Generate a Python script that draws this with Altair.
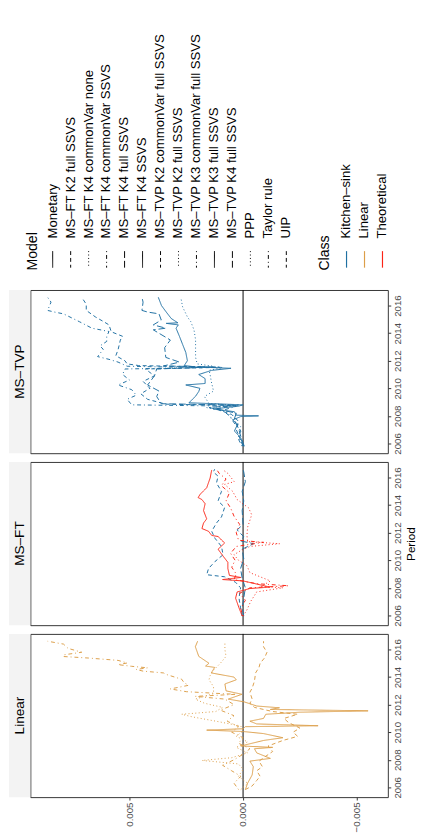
import altair as alt
import pandas as pd

# ---------------- data (values in units of 1e-3) ----------------
# Linear panel
LIN_MONETARY = [(2005.84,-0.1),(2006.3,-0.2),(2006.9,-0.4),(2007.5,-0.45),(2007.9,-0.3),(2008.1,-1.2),(2008.5,-0.6),(2008.8,-0.5),(2008.9,-1.3),(2009.0,0.1),(2009.4,-0.9),(2009.6,-1.75),(2009.9,-0.9),(2010.05,0.0),(2010.15,1.6),(2010.25,0.0),(2010.4,-0.1),(2010.47,-3.3),(2010.6,-0.6),(2010.8,-0.3),(2011.0,-0.9),(2011.3,-1.0),(2011.45,-2.5),(2011.55,-5.5),(2011.65,-1.2),(2011.77,-1.6),(2011.9,-0.6),(2012.2,-0.05),(2012.4,0.65),(2012.75,0.05),(2013.0,0.75),(2013.5,0.8),(2013.8,0.3),(2014.0,0.4),(2014.3,1.4),(2014.7,1.25),(2014.8,1.65),(2015.0,1.5),(2015.5,1.95),(2016.2,2.1),(2016.6,2.0)]
LIN_PPP = [(2005.84,0.1),(2006.3,-0.2),(2006.8,0.2),(2007.3,0.0),(2007.7,0.2),(2007.95,1.8),(2008.15,0.5),(2008.5,-0.2),(2008.9,0.3),(2009.3,-0.2),(2009.7,0.3),(2010.1,0.0),(2010.45,0.1),(2010.8,1.2),(2011.1,2.2),(2011.3,2.7),(2011.5,1.2),(2011.8,0.9),(2012.1,1.7),(2012.4,2.1),(2012.8,1.3),(2013.3,1.3),(2013.8,1.5),(2014.1,1.45),(2014.5,1.3),(2015.0,1.0),(2015.5,0.75),(2016.0,0.8),(2016.6,0.8)]
LIN_TAYLOR = [(2005.84,0.2),(2006.3,0.4),(2006.8,0.1),(2007.2,0.5),(2007.6,0.9),(2008.0,0.4),(2008.4,0.0),(2008.8,-0.3),(2009.2,0.2),(2009.6,0.0),(2010.0,0.5),(2010.4,0.2),(2010.8,0.7),(2011.2,0.4),(2011.6,1.0),(2012.0,0.4),(2012.4,0.8),(2012.6,2.1),(2012.75,0.3),(2012.82,1.2),(2012.94,2.5),(2013.14,3.2),(2013.4,2.4),(2013.6,2.6),(2013.84,2.7),(2014.2,3.4),(2014.3,3.5),(2014.43,4.4),(2014.55,4.7),(2014.67,4.2),(2014.78,4.9),(2014.9,5.5),(2015.02,5.1),(2015.21,5.5),(2015.38,6.8),(2015.49,7.9),(2015.61,7.9),(2015.8,7.1),(2016.08,7.7),(2016.39,7.9),(2016.6,8.6)]
LIN_UIP = [(2005.84,-0.1),(2006.1,-0.4),(2006.5,-0.6),(2006.8,-0.75),(2007.2,-0.6),(2007.5,-0.85),(2007.9,-0.7),(2008.2,-0.95),(2008.6,-1.3),(2009.0,-1.1),(2009.4,-1.75),(2009.7,-2.4),(2010.0,-2.2),(2010.3,-2.5),(2010.7,-2.0),(2011.0,-1.8),(2011.3,-2.4),(2011.5,-1.3),(2011.8,-0.5),(2012.1,-0.3),(2012.4,-0.4),(2012.9,-0.3),(2013.2,-0.4),(2013.7,-0.5),(2014.3,-0.55),(2014.7,-0.7),(2015.0,-0.75),(2015.4,-0.95),(2015.8,-1.05),(2016.2,-0.9),(2016.6,-0.9)]

# MS-FT panel
FT_K4_SSVS = [(2005.95,0.04),(2006.55,0.18),(2007.25,0.33),(2007.7,0.26),(2007.95,-0.3),(2008.05,-1.18),(2008.3,-0.53),(2008.5,0.0),(2008.6,0.9),(2008.75,0.1),(2008.9,0.6),(2009.4,0.67),(2009.85,0.67),(2010.3,0.88),(2010.8,1.1),(2011.25,0.81),(2011.72,1.1),(2011.8,1.38),(2012.1,1.52),(2012.3,1.81),(2012.7,1.74),(2013.0,1.6),(2013.6,1.74),(2014.1,1.67),(2014.4,1.81),(2014.55,1.98),(2014.8,1.88),(2015.26,1.6),(2015.96,1.45),(2016.55,1.38)]
FT_K4_CV_NONE = [(2005.95,0.0),(2006.4,-0.17),(2007.0,-0.33),(2007.7,-0.6),(2008.0,-1.75),(2008.1,-0.8),(2008.5,-1.2),(2008.8,-0.75),(2009.1,-0.3),(2009.6,-0.17),(2010.0,0.2),(2010.4,0.4),(2010.7,0.1),(2011.0,-0.3),(2011.2,-1.61),(2011.35,-0.2),(2011.8,-0.17),(2012.4,-0.2),(2013.3,-0.38),(2013.8,-0.24),(2014.4,0.26),(2015.0,0.46),(2015.5,0.81),(2015.7,0.39),(2016.3,0.67),(2016.55,0.88)]
FT_K4_CV_SSVS = [(2005.95,0.02),(2006.5,0.1),(2007.1,-0.1),(2007.6,0.15),(2008.0,-0.3),(2008.15,-2.0),(2008.3,-0.6),(2008.6,0.4),(2009.0,0.3),(2009.5,0.5),(2010.0,0.35),(2010.5,0.55),(2011.0,0.3),(2011.3,-0.9),(2011.45,0.2),(2012.0,0.3),(2012.6,0.15),(2013.2,0.4),(2013.8,0.55),(2014.3,0.75),(2014.9,0.6),(2015.4,0.95),(2015.9,0.75),(2016.3,1.05),(2016.55,1.15)]
FT_K2_FULL = [(2005.95,0.04),(2006.55,0.11),(2007.25,0.18),(2008.0,0.11),(2008.4,0.33),(2008.8,0.81),(2008.95,1.6),(2009.4,1.52),(2009.9,1.24),(2010.4,0.88),(2011.0,0.95),(2011.6,1.24),(2012.1,1.38),(2012.7,1.17),(2013.14,0.95),(2013.84,0.81),(2014.3,1.1),(2015.0,0.95),(2015.6,1.17),(2016.1,1.1),(2016.4,1.31),(2016.6,1.25)]
FT_K4_FULL = [(2005.95,-0.03),(2006.55,0.04),(2007.25,-0.03),(2008.0,-0.1),(2008.7,0.04),(2009.4,0.11),(2010.1,-0.03),(2010.8,0.04),(2011.2,-0.46),(2011.4,0.1),(2011.7,-0.03),(2012.2,0.26),(2012.6,0.0),(2013.6,0.04),(2014.3,-0.03),(2015.0,0.04),(2015.7,-0.1),(2016.4,-0.03),(2016.6,0.0)]

# MS-TVP panel
TVP_K3_CV_FULL = [(2005.8,0.05),(2006.3,0.2),(2006.9,0.1),(2007.5,0.4),(2008.0,0.6),(2008.4,0.9),(2008.7,0.3),(2008.8,4.9),(2009.2,5.1),(2009.5,4.7),(2009.9,4.9),(2010.24,5.5),(2010.6,5.0),(2011.0,5.3),(2011.4,5.2),(2011.5,1.8),(2011.6,5.1),(2011.9,5.5),(2012.1,5.9),(2012.3,6.4),(2012.83,6.15),(2013.07,6.3),(2013.4,6.0),(2013.77,6.0),(2014.12,5.9),(2014.36,6.65),(2014.83,7.2),(2015.4,7.9),(2015.53,8.3),(2015.65,8.6),(2016.25,8.45),(2016.6,8.6)]
TVP_K2_CV_FULL = [(2005.8,0.0),(2006.4,0.15),(2007.0,0.3),(2007.6,0.2),(2008.1,0.5),(2008.5,1.2),(2008.75,0.4),(2008.85,3.4),(2009.2,4.2),(2009.6,4.5),(2010.0,4.1),(2010.5,4.4),(2010.9,3.9),(2011.4,4.3),(2011.52,1.0),(2011.65,4.6),(2011.77,5.1),(2012.0,5.2),(2012.36,5.6),(2012.8,5.5),(2013.5,5.4),(2013.77,5.3),(2014.1,5.8),(2014.6,5.9),(2014.8,6.1),(2015.18,6.5),(2015.65,6.9),(2016.1,6.9),(2016.6,7.1)]
TVP_K4_FULL = [(2005.8,-0.05),(2006.5,0.1),(2007.1,0.2),(2007.7,0.4),(2008.2,0.3),(2008.6,1.5),(2008.78,0.2),(2008.88,3.6),(2009.4,3.8),(2009.8,3.7),(2010.24,4.2),(2010.9,3.9),(2011.4,3.8),(2011.55,1.3),(2011.62,3.5),(2011.9,2.8),(2012.24,3.4),(2012.95,3.45),(2013.5,3.2),(2014.24,3.95),(2014.36,3.4),(2014.6,3.95),(2014.95,3.6),(2015.4,3.7),(2015.53,4.2),(2015.65,4.45),(2016.25,4.4),(2016.6,4.45)]
TVP_K3_FULL = [(2005.8,-0.04),(2006.0,0.03),(2006.4,0.1),(2006.9,0.38),(2007.4,0.24),(2007.7,0.46),(2007.95,0.1),(2008.0,-0.68),(2008.05,0.3),(2008.3,0.38),(2008.5,1.3),(2008.7,0.2),(2008.8,0.0),(2008.95,2.38),(2009.2,2.23),(2009.42,2.09),(2009.77,1.95),(2010.0,1.9),(2010.24,2.52),(2010.35,1.67),(2010.7,1.67),(2011.0,1.95),(2011.3,1.38),(2011.45,0.53),(2011.55,2.09),(2011.65,2.59),(2012.0,2.45),(2012.6,2.52),(2013.18,2.66),(2013.77,2.8),(2014.36,2.95),(2014.6,2.85),(2014.71,3.38),(2014.75,2.87),(2015.06,3.16),(2015.53,3.38),(2016.0,3.59),(2016.6,3.73)]
TVP_K2_FULL = [(2005.8,0.0),(2006.5,0.2),(2007.2,0.1),(2007.8,0.5),(2008.3,0.7),(2008.6,1.6),(2008.75,0.3),(2008.9,1.5),(2009.4,1.7),(2009.8,1.3),(2010.5,1.4),(2011.0,1.45),(2011.3,1.5),(2011.5,0.9),(2011.77,2.02),(2012.24,2.09),(2012.83,2.09),(2013.53,2.09),(2014.24,2.16),(2014.83,2.3),(2015.18,2.45),(2015.9,2.66),(2016.5,2.73)]

MODELS = ["Monetary", "MS–FT K2 full SSVS", "MS–FT K4 commonVar none",
          "MS–FT K4 commonVar SSVS", "MS–FT K4 full SSVS", "MS–FT K4 SSVS",
          "MS–TVP K2 commonVar full SSVS", "MS–TVP K2 full SSVS",
          "MS–TVP K3 commonVar full SSVS", "MS–TVP K3 full SSVS",
          "MS–TVP K4 full SSVS", "PPP", "Taylor rule", "UIP"]
CLASSES = ["Kitchen–sink", "Linear", "Theoretical"]
YEAR_TICKS = [2006, 2008, 2010, 2012, 2014, 2016]
VALUE_TICKS = [-0.005, 0.0, 0.005]

# ---------------- styles ----------------
SOLID, DASHED, DOTTED, DOTDASH, LONGDASH = [1, 0], [4, 3], [1, 2.5], [1, 3, 4, 3], [7, 3]
MODEL_DASH = {
    "Monetary": SOLID, "MS–FT K2 full SSVS": DASHED, "MS–FT K4 commonVar none": DOTTED,
    "MS–FT K4 commonVar SSVS": DOTDASH, "MS–FT K4 full SSVS": LONGDASH, "MS–FT K4 SSVS": SOLID,
    "MS–TVP K2 commonVar full SSVS": DASHED, "MS–TVP K2 full SSVS": DOTTED,
    "MS–TVP K3 commonVar full SSVS": DOTDASH, "MS–TVP K3 full SSVS": SOLID,
    "MS–TVP K4 full SSVS": LONGDASH, "PPP": DOTTED, "Taylor rule": DOTDASH, "UIP": DASHED,
}
CLASS_COLORS = ["#1f70a2", "#dc9e48", "#fb2416"]
FONT = "Liberation Sans"
PW, PH = 368, 168

dash_scale = alt.Scale(domain=MODELS, range=[MODEL_DASH[m] for m in MODELS])
color_scale = alt.Scale(domain=CLASSES, range=CLASS_COLORS)


def frame(pairs, model, cls):
    return pd.DataFrame({"period": [p[0] for p in pairs],
                         "value": [p[1] * 1e-3 for p in pairs],
                         "model": model, "cls": cls})


def panel(name, frames, show_x, y_title):
    df = pd.concat(frames, ignore_index=True)
    if show_x:
        xaxis = alt.Axis(values=VALUE_TICKS, format=".3f", labelAngle=270, labelAlign="right",
                         labelBaseline="middle", labelFontSize=10, labelColor="#4d4d4d",
                         labelPadding=2, tickSize=3, tickColor="#333333", domain=False,
                         grid=False, title=None)
    else:
        xaxis = None
    xenc = alt.X("value:Q", scale=alt.Scale(domain=[-0.00637, 0.00936], reverse=True,
                                            nice=False, zero=False), axis=xaxis)
    ykw = dict(orient="right", values=YEAR_TICKS, format="d", labelAngle=270,
               labelAlign="center", labelBaseline="top", labelFontSize=10,
               labelColor="#4d4d4d", labelPadding=2, tickSize=3, tickColor="#333333",
               domain=False, grid=False)
    if y_title:
        ykw.update(title=y_title, titleAngle=270, titleBaseline="top", titleFontSize=12,
                   titleFontWeight="normal", titleColor="black", titlePadding=3)
    else:
        ykw.update(title=None)
    yenc = alt.Y("period:Q", scale=alt.Scale(domain=[2005.29, 2017.13], nice=False, zero=False),
                 axis=alt.Axis(**ykw))

    strip = alt.Chart(pd.DataFrame({"s": [name]})).mark_rect(fill="#f3f3f3").encode(
        x=alt.value(-22), x2=alt.value(0), y=alt.value(0), y2=alt.value(PH))
    label = alt.Chart(pd.DataFrame({"s": [name]})).mark_text(
        angle=270, fontSize=14, color="black", align="center", baseline="middle", font=FONT
    ).encode(x=alt.value(-11), y=alt.value(PH / 2), text="s:N")
    zero = alt.Chart(pd.DataFrame({"value": [0.0]})).mark_rule(color="black", strokeWidth=1).encode(x=xenc)
    lines = alt.Chart(df).mark_line(strokeWidth=1, clip=True).encode(
        x=xenc, y=yenc,
        color=alt.Color("cls:N", scale=color_scale, legend=None),
        strokeDash=alt.StrokeDash("model:N", scale=dash_scale, legend=None),
        order=alt.Order("period:Q"),
    )
    return alt.layer(strip, label, zero, lines).properties(width=PW, height=PH)


tvp = panel("MS–TVP", [
    frame(TVP_K2_CV_FULL, "MS–TVP K2 commonVar full SSVS", "Kitchen–sink"),
    frame(TVP_K2_FULL, "MS–TVP K2 full SSVS", "Kitchen–sink"),
    frame(TVP_K3_CV_FULL, "MS–TVP K3 commonVar full SSVS", "Kitchen–sink"),
    frame(TVP_K3_FULL, "MS–TVP K3 full SSVS", "Kitchen–sink"),
    frame(TVP_K4_FULL, "MS–TVP K4 full SSVS", "Kitchen–sink"),
], False, None)

ft = panel("MS–FT", [
    frame(FT_K2_FULL, "MS–FT K2 full SSVS", "Kitchen–sink"),
    frame(FT_K4_FULL, "MS–FT K4 full SSVS", "Kitchen–sink"),
    frame(FT_K4_CV_NONE, "MS–FT K4 commonVar none", "Theoretical"),
    frame(FT_K4_CV_SSVS, "MS–FT K4 commonVar SSVS", "Theoretical"),
    frame(FT_K4_SSVS, "MS–FT K4 SSVS", "Theoretical"),
], False, "Period")

lin = panel("Linear", [
    frame(LIN_MONETARY, "Monetary", "Linear"),
    frame(LIN_PPP, "PPP", "Linear"),
    frame(LIN_TAYLOR, "Taylor rule", "Linear"),
    frame(LIN_UIP, "UIP", "Linear"),
], True, None)

# ---------------- legend (rotated, like the reference) ----------------
LEG_H = 271
slot_scale = alt.Scale(domain=[-1.243, 18.649], nice=False, zero=False)
MODEL_TITLE_SLOT, CLASS_TITLE_SLOT, CLASS_FIRST_SLOT = -1.08, 15.14, 16.35

titles_df = pd.DataFrame({"label": ["Model", "Class"], "slot": [MODEL_TITLE_SLOT, CLASS_TITLE_SLOT]})
models_df = pd.DataFrame({"label": MODELS, "slot": list(range(len(MODELS)))})
classes_df = pd.DataFrame({"label": CLASSES,
                           "slot": [CLASS_FIRST_SLOT + i for i in range(len(CLASSES))]})

xs = alt.X("slot:Q", scale=slot_scale, axis=None)
leg_titles = alt.Chart(titles_df).mark_text(angle=270, align="left", baseline="middle",
                                            fontSize=14.5, color="black", font=FONT).encode(
    x=xs, y=alt.value(258), text="label:N")
leg_model_text = alt.Chart(models_df).mark_text(angle=270, align="left", baseline="middle",
                                                fontSize=13.5, color="black", font=FONT).encode(
    x=xs, y=alt.value(225), text="label:N")
leg_model_keys = alt.Chart(models_df).mark_rule(color="black", strokeWidth=1).encode(
    x=xs, y=alt.value(238), y2=alt.value(255),
    strokeDash=alt.StrokeDash("label:N", scale=dash_scale, legend=None))
leg_class_text = alt.Chart(classes_df).mark_text(angle=270, align="left", baseline="middle",
                                                 fontSize=13.5, color="black", font=FONT).encode(
    x=xs, y=alt.value(225), text="label:N")
leg_class_keys = alt.Chart(classes_df).mark_rule(strokeWidth=1.2).encode(
    x=xs, y=alt.value(238), y2=alt.value(255),
    color=alt.Color("label:N", scale=color_scale, legend=None))

legend = alt.layer(leg_titles, leg_model_text, leg_model_keys, leg_class_text,
                   leg_class_keys).properties(width=PW, height=LEG_H, view=alt.ViewConfig(stroke=None))

chart = alt.vconcat(legend, tvp, ft, lin, spacing=6).properties(padding=0).configure(
    font=FONT).configure_view(stroke="#333333", strokeWidth=1).configure_axis(grid=False)

chart.save("out.html", embed_options={"renderer": "svg", "actions": False})
